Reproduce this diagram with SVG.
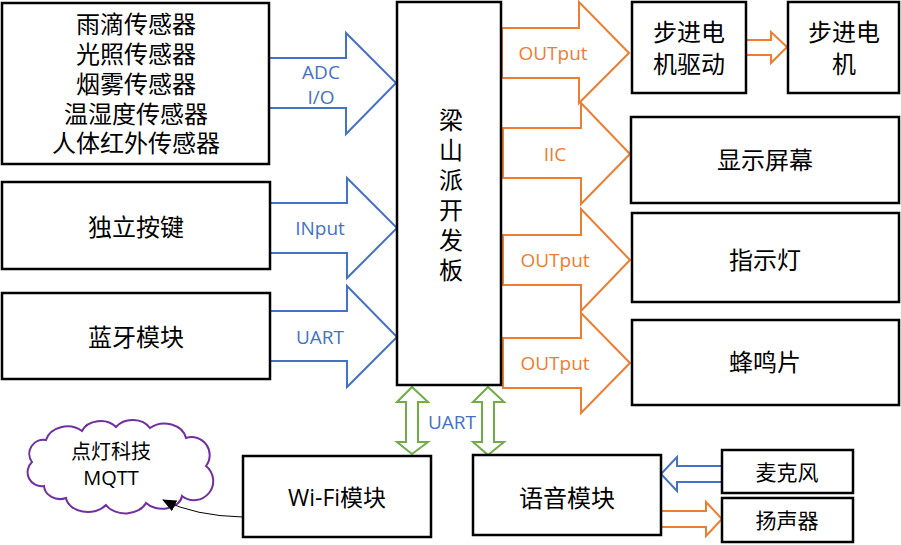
<svg xmlns="http://www.w3.org/2000/svg" width="901" height="545" viewBox="0 0 901 545">
<style>
.box{fill:#fff;stroke:#000;stroke-width:2.5}
.t{font-family:"Noto Sans CJK SC","Microsoft YaHei",sans-serif;font-size:24px;fill:#000;text-anchor:middle}
.ts{font-family:"Noto Sans CJK SC",sans-serif;font-size:21px;fill:#000;text-anchor:middle}
.lat{font-family:"Open Sans","Noto Sans CJK SC",sans-serif;font-size:23px;fill:#000;text-anchor:middle}
.lb{font-family:"Open Sans",sans-serif;font-size:19px;fill:#4472C4;text-anchor:middle}
.lo{font-family:"Open Sans",sans-serif;font-size:19px;fill:#ED7D31;text-anchor:middle}
.ab{fill:#fff;stroke:#4472C4;stroke-width:2}
.ao{fill:#fff;stroke:#ED7D31;stroke-width:2}
.ag{fill:#fff;stroke:#70AD47;stroke-width:2}
</style>
<defs>
<marker id="ah" markerWidth="14" markerHeight="12" refX="13" refY="6" orient="auto" markerUnits="userSpaceOnUse">
<path d="M0,0 L14,6 L0,12 z" fill="#000"/>
</marker>
</defs>

<g id="cloud">
<path d="M32,462 A14,14 0 0 1 46,440 A22,18 0 0 1 82,431 A20,16 0 0 1 116,427 A20,16 0 0 1 150,428 A22,18 0 0 1 186,438 A18,18 0 0 1 206,466 A16,16 0 0 1 182,496 A20,14 0 0 1 146,503 A22,16 0 0 1 106,505 A22,16 0 0 1 66,498 A16,14 0 0 1 44,486 A14,14 0 0 1 32,462 Z" fill="#fff" stroke="#7030A0" stroke-width="2"/>
<text class="ts" x="111" y="459" style="font-size:20px">点灯科技</text>
<text class="ts" x="111" y="485" style="font-family:'Open Sans',sans-serif;font-size:20px">MQTT</text>
</g>

<g id="connectors">
<polygon class="ab" points="269,58 346,58 346,33 396,83 346,134 346,108 269,108"/>
<polygon class="ab" points="270,203 347,203 347,178 397,228 347,278 347,253 270,253"/>
<polygon class="ab" points="270,311 347,311 347,286 397,337 347,387 347,361 270,361"/>
<polygon class="ao" points="502,28 579,28 579,2 629,53 579,103 579,78 502,78"/>
<polygon class="ao" points="503,128 581,128 581,103 630,154 581,204 581,178 503,178"/>
<polygon class="ao" points="503,235 581,235 581,209 630,260 581,311 581,285 503,285"/>
<polygon class="ao" points="503,338 581,338 581,313 630,363 581,413 581,388 503,388"/>
<polygon class="ao" points="746,40 771,40 771,32 787,47 771,63 771,55 746,55"/>
<polygon class="ag" points="412,387 428,402 418,402 418,442 428,442 412,454 397,442 406,442 406,402 397,402"/>
<polygon class="ag" points="488,387 504,402 494,402 494,442 504,442 488,455 473,442 482,442 482,402 473,402"/>
<polygon class="ab" points="722,466 677,466 677,457 661,474 677,491 677,482 722,482"/>
<polygon class="ao" points="661,511 706,511 706,502 722,519 706,536 706,527 661,527"/>
<path d="M243,517 Q195,516 163,500" fill="none" stroke="#000" stroke-width="1" marker-end="url(#ah)"/>
<text class="lb" x="321" y="79">ADC</text>
<text class="lb" x="321" y="104">I/O</text>
<text class="lb" x="320" y="235">INput</text>
<text class="lb" x="320" y="344">UART</text>
<text class="lo" x="553" y="60">OUTput</text>
<text class="lo" x="555" y="161">IIC</text>
<text class="lo" x="555" y="267">OUTput</text>
<text class="lo" x="555" y="370">OUTput</text>
<text class="lb" x="452" y="429">UART</text>
</g>

<g id="sensors">
<rect class="box" x="2" y="3" width="267" height="161"/>
<text class="t" x="136" y="33">雨滴传感器<tspan x="136" dy="30">光照传感器</tspan><tspan x="136" dy="30">烟雾传感器</tspan><tspan x="136" dy="30">温湿度传感器</tspan><tspan x="136" dy="29">人体红外传感器</tspan></text>
</g>
<g id="keys">
<rect class="box" x="2" y="182" width="268" height="87"/>
<text class="t" x="136" y="236">独立按键</text>
</g>
<g id="bluetooth">
<rect class="box" x="2" y="293" width="268" height="86"/>
<text class="t" x="136" y="346">蓝牙模块</text>
</g>
<g id="board">
<rect class="box" x="397" y="2" width="104" height="383"/>
<text class="t" x="451" y="129">梁<tspan x="451" dy="30">山</tspan><tspan x="451" dy="30">派</tspan><tspan x="451" dy="30">开</tspan><tspan x="451" dy="30">发</tspan><tspan x="451" dy="30">板</tspan></text>
</g>
<g id="driver">
<rect class="box" x="632" y="2" width="114" height="91"/>
<text class="t" x="689" y="41">步进电<tspan x="689" dy="32">机驱动</tspan></text>
</g>
<g id="motor">
<rect class="box" x="788" y="2" width="111" height="91"/>
<text class="t" x="844" y="41">步进电<tspan x="844" dy="32">机</tspan></text>
</g>
<g id="display">
<rect class="box" x="631" y="117" width="268" height="86"/>
<text class="t" x="765" y="169">显示屏幕</text>
</g>
<g id="led">
<rect class="box" x="632" y="213" width="267" height="89"/>
<text class="t" x="765" y="269">指示灯</text>
</g>
<g id="buzzer">
<rect class="box" x="632" y="320" width="267" height="85"/>
<text class="t" x="765" y="371">蜂鸣片</text>
</g>
<g id="wifi">
<rect class="box" x="243" y="456" width="188" height="81"/>
<text class="lat" x="337" y="506">Wi-Fi模块</text>
</g>
<g id="voice">
<rect class="box" x="473" y="455" width="188" height="80"/>
<text class="t" x="567" y="507">语音模块</text>
</g>
<g id="mic">
<rect class="box" x="722" y="450" width="131" height="43"/>
<text class="ts" x="787" y="480">麦克风</text>
</g>
<g id="speaker">
<rect class="box" x="722" y="498" width="131" height="44"/>
<text class="ts" x="787" y="528">扬声器</text>
</g>
</svg>
